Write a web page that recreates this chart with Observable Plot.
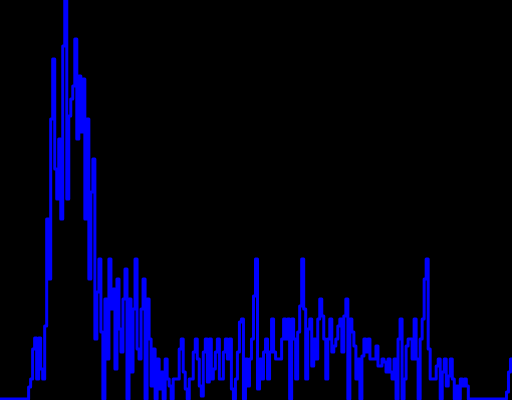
<!DOCTYPE html>
<html>
<head>
<meta charset="utf-8">
<script src="https://cdn.jsdelivr.net/npm/d3@7"></script>
<script src="https://cdn.jsdelivr.net/npm/@observablehq/plot@0.6"></script>
<style>
  html, body { margin: 0; padding: 0; background: #000; overflow: hidden; }
  #chart svg { display: block; }
</style>
</head>
<body>
<div id="chart"></div>
<script>
// Bin counts (one bin per consecutive step of the histogram line)
const counts = [
  0, 0, 0, 0, 0, 0, 0, 0, 0, 0, 0, 0, 0, 0,
  12, 20, 50, 61, 20, 61, 30, 20, 73, 180, 120, 280, 340, 230, 200, 260,
  180, 353, 400, 200, 283, 300, 313, 360, 260, 323, 267, 320, 180, 280, 120, 207,
  240, 60, 107, 140, 67, 0, 100, 40, 140, 90, 110, 30, 120, 70, 47, 100,
  130, 0, 100, 27, 90, 140, 50, 40, 90, 120, 0, 100, 60, 13, 50, 0,
  40, 10, 27, 0, 40, 20, 13, 0, 20, 20, 20, 50, 60, 27, 10, 0,
  20, 20, 47, 60, 40, 13, 3, 47, 60, 17, 60, 20, 30, 47, 60, 20,
  20, 47, 60, 40, 60, 10, 0, 20, 47, 77, 80, 0, 40, 13, 40, 60,
  103, 140, 10, 40, 20, 47, 60, 20, 47, 80, 47, 40, 40, 40, 60, 80,
  60, 80, 0, 80, 60, 20, 67, 93, 140, 90, 20, 70, 80, 33, 60, 40,
  80, 100, 83, 60, 20, 60, 80, 47, 53, 60, 73, 80, 47, 83, 100, 0,
  80, 67, 53, 20, 40, 0, 43, 60, 47, 60, 40, 40, 40, 53, 33, 33,
  40, 37, 27, 40, 27, 20, 40, 0, 60, 80, 0, 20, 53, 60, 60, 40,
  80, 40, 0, 60, 80, 120, 140, 50, 20, 20, 20, 33, 40, 0, 27, 40,
  13, 23, 40, 20, 0, 13, 0, 20, 13, 20, 13, 0, 0, 0, 0, 0,
  0, 0, 0, 0, 0, 0, 0, 0, 0, 0, 0, 0, 0, 0, 7, 27, 40
];

const bins = counts.map((c, i) => ({bin: i, count: c}));
// carry the final step to the right edge
bins.push({bin: counts.length, count: counts[counts.length - 1]});

const chart = Plot.plot({
  width: 512,
  height: 400,
  margin: 0,
  style: {background: "#000"},
  x: {domain: [0, counts.length], axis: null},
  y: {domain: [0, 400], range: [398.5, -1.5], axis: null},
  marks: [
    Plot.lineY(bins, {x: "bin", y: "count", curve: "step-after", stroke: "#0000ff", strokeWidth: 3})
  ]
});
document.getElementById("chart").appendChild(chart);
</script>
</body>
</html>
